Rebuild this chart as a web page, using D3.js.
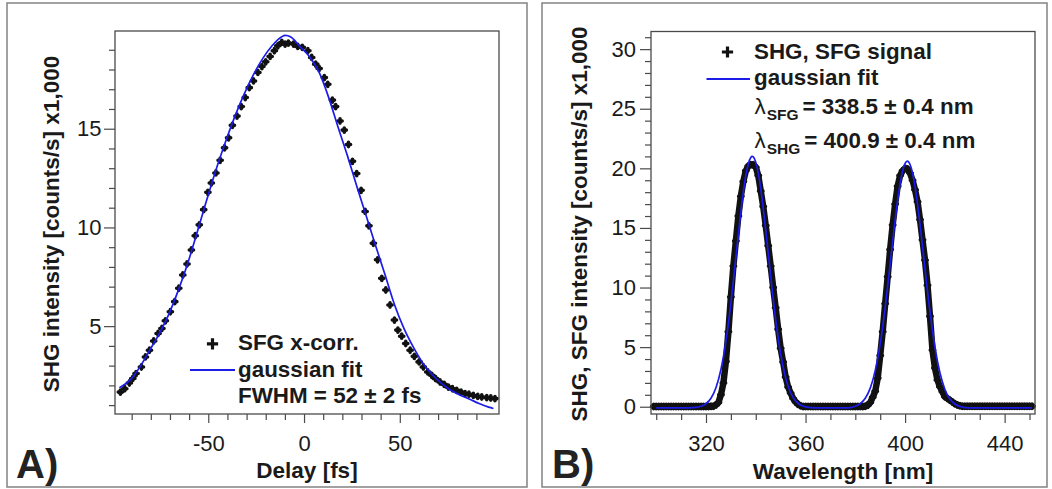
<!DOCTYPE html>
<html>
<head>
<meta charset="utf-8">
<script src="https://cdn.jsdelivr.net/npm/d3@7"></script>
<style>
  body { margin: 0; background: #fff; }
  svg { display: block; }
</style>
</head>
<body>
<svg width="1052" height="489"></svg>
<script>
// ---- panel A: SFG cross-correlation (delay in fs, counts/s x1000)
const delayFs = [-95.9, -93.6, -91.2, -89.4, -87.7, -84.9, -82.8, -80.7, -78.5, -76.2,
  -74.2, -72.4, -69.8, -67.5, -65.4, -63.3, -61.1, -58.8, -56.8, -54.7,
  -52.4, -50.2, -48.4, -46.0, -43.8, -41.5, -39.4, -37.4, -35.0, -32.8,
  -30.7, -28.6, -26.4, -24.1, -22.0, -20.0, -17.7, -15.5, -13.7, -11.6,
  -9.9, -8.2, -5.5, -3.3, -0.9, 2.0, 4.0, 6.1, 7.9, 10.6,
  12.4, 14.8, 16.5, 18.8, 21.0, 23.2, 25.3, 27.5, 29.8, 31.9,
  33.9, 36.2, 38.4, 40.6, 42.7, 44.9, 47.2, 49.0, 51.0, 53.1,
  55.4, 57.6, 60.1, 62.3, 64.6, 66.7, 68.7, 71.0, 73.2, 75.4,
  77.5, 79.7, 82.0, 84.1, 86.1, 88.4, 90.7, 92.8, 95.4, 97.5, 99.7];
const xcorrSignal = [1.66, 1.83, 2.12, 2.35, 2.60, 2.93, 3.44, 3.78, 4.25, 4.63,
  4.88, 5.27, 5.73, 6.24, 6.92, 7.59, 8.15, 8.86, 9.58, 10.13,
  10.90, 11.78, 12.25, 12.76, 13.40, 14.03, 14.54, 15.17, 15.64, 16.12,
  16.58, 17.08, 17.42, 17.85, 18.15, 18.39, 18.66, 18.95, 19.20, 19.37,
  19.29, 19.34, 19.29, 19.17, 19.12, 18.95, 18.61, 18.27, 18.05, 17.59,
  17.25, 16.45, 16.12, 15.39, 14.93, 14.20, 13.35, 12.73, 11.88, 10.81,
  10.08, 9.20, 8.36, 7.42, 6.83, 6.07, 5.31, 4.80, 4.49, 4.12,
  3.78, 3.47, 3.19, 2.93, 2.68, 2.51, 2.34, 2.17, 2.05, 1.91,
  1.83, 1.75, 1.66, 1.58, 1.55, 1.49, 1.44, 1.41, 1.38, 1.36, 1.33];

const xcorrFitDelay = [-96.4, -90.5, -85.6, -80.6, -75.7, -70.8, -65.9, -61.0, -56.1, -51.1,
  -46.2, -41.3, -36.4, -31.5, -26.6, -21.6, -16.7, -11.8, -9.8, -6.9,
  -2.0, 2.9, 7.9, 12.8, 17.7, 22.6, 27.5, 32.4, 37.3, 42.3,
  47.2, 52.1, 57.0, 61.9, 66.9, 71.8, 76.7, 81.6, 86.5, 91.4, 96.4, 98.9];
const xcorrFit = [1.88, 2.3, 2.95, 3.78, 4.6, 5.56, 6.75, 8.1, 9.65, 11.3,
  12.85, 14.25, 15.55, 16.7, 17.7, 18.55, 19.2, 19.65, 19.73, 19.65,
  19.15, 18.65, 17.85, 16.6, 15.1, 13.65, 12.1, 10.6, 9.1, 7.6,
  6.1, 4.9, 3.95, 3.15, 2.55, 2.1, 1.75, 1.5, 1.3, 1.08, 0.9, 0.83];

// ---- panel B: SHG / SFG spectrum, one value per nm starting at 299 nm
const spectrumStartNm = 299;
const spectrumSignal = [0.02, 0.02, 0.02, 0.02, 0.02, 0.02, 0.02, 0.02, 0.02,
  0.02, 0.02, 0.02, 0.02, 0.02, 0.02, 0.02, 0.02, 0.02, 0.02,
  0.02, 0.02, 0.02, 0.02, 0.03, 0.05, 0.15, 0.35, 1.0, 2.0,
  3.8, 6.3, 9.2, 11.8, 13.9, 16.0, 17.65, 18.9, 19.8, 20.2,
  20.3, 20.3, 20.1, 19.4, 18.1, 16.8, 15.2, 13.5, 11.8, 10.0,
  8.3, 6.5, 4.9, 3.75, 2.5, 1.65, 1.15, 0.7, 0.4, 0.2,
  0.08, 0.02, 0.02, 0.02, 0.02, 0.02, 0.02, 0.02, 0.02, 0.02,
  0.02, 0.02, 0.02, 0.02, 0.02, 0.02, 0.02, 0.02, 0.02, 0.02,
  0.02, 0.02, 0.02, 0.02, 0.02, 0.02, 0.05, 0.12, 0.35, 0.8,
  1.3, 2.4, 4.3, 6.3, 8.65, 10.9, 13.2, 15.25, 17.0, 18.5,
  19.4, 19.8, 20.0, 19.95, 19.6, 19.0, 18.2, 17.2, 15.7, 14.0,
  12.3, 10.2, 7.6, 4.75, 3.25, 2.25, 1.67, 1.25, 0.84, 0.7,
  0.55, 0.4, 0.25, 0.15, 0.08, 0.05, 0.05, 0.05, 0.05, 0.05,
  0.05, 0.05, 0.05, 0.05, 0.05, 0.05, 0.05, 0.05, 0.05, 0.05,
  0.05, 0.05, 0.05, 0.05, 0.05, 0.05, 0.05, 0.05, 0.05, 0.05,
  0.05, 0.05, 0.05, 0.05];

const spectrumFitNm = [300, 310, 316, 318, 320, 322, 324, 326, 328, 330,
  332, 334, 335, 336, 337, 338, 338.6, 339, 340, 341,
  342, 344, 346, 348, 350, 352, 354, 356, 358, 360,
  364, 376, 378, 380, 382, 384, 386, 388, 390, 392,
  394, 396, 398, 399, 400, 400.9, 402, 403, 404, 406,
  408, 410, 412, 414, 416, 418, 420, 422, 424, 428, 451];
const spectrumFit = [-0.1, -0.1, -0.05, 0.04, 0.25, 0.71, 1.59, 3.12, 5.48, 8.69,
  12.5, 16.33, 18.0, 19.38, 20.37, 20.91, 21.0, 20.96, 20.52, 19.6,
  18.3, 14.84, 10.94, 7.31, 4.43, 2.42, 1.17, 0.49, 0.14, -0.01,
  -0.1, -0.1, -0.08, 0.045, 0.26, 0.71, 1.56, 3.03, 5.27, 8.32,
  11.95, 15.65, 18.71, 19.77, 20.41, 20.6, 20.32, 19.59, 18.46, 15.3,
  11.57, 7.98, 5.0, 2.85, 1.45, 0.65, 0.23, 0.03, -0.07, -0.1, -0.1];

// ---- ticks
const delayMajorTicks = [-50, 0, 50];
const delayMinorTicks = [-90, -80, -70, -60, -40, -30, -20, -10, 10, 20, 30, 40, 60, 70, 80, 90];
const xcorrMajorTicks = [5, 10, 15];
const xcorrMinorTicks = [1, 2, 3, 4, 6, 7, 8, 9, 11, 12, 13, 14, 16, 17, 18, 19];
const nmMajorTicks = [320, 360, 400, 440];
const nmMinorTicks = [300, 310, 330, 340, 350, 370, 380, 390, 410, 420, 430, 450];
const spectrumMajorTicks = [0, 5, 10, 15, 20, 25, 30];
const spectrumMinorTicks = [1, 2, 3, 4, 6, 7, 8, 9, 11, 12, 13, 14, 16, 17, 18, 19,
  21, 22, 23, 24, 26, 27, 28, 29, 31];

const fontFamily = '"Liberation Sans", Arial, Helvetica, sans-serif';
const textColor = "#1a1a1a";
const fitColor = "#1c1ce8";
const dataColor = "#111";
const plusPath = "M-2.1,0H2.1M0,-2.1V2.1";

main();

function main() {
  const svg = d3.select("svg");
  svg.append("rect").attr("width", 1052).attr("height", 489).attr("fill", "#fff");

  drawPanelFrame(svg, 7, 3, 520, 484);
  drawPanelFrame(svg, 542, 3, 505, 484);

  drawDelayPanel(svg);
  drawSpectrumPanel(svg);
}

function drawPanelFrame(svg, x, y, w, h) {
  svg.append("rect")
    .attr("x", x).attr("y", y).attr("width", w).attr("height", h)
    .attr("fill", "none").attr("stroke", "#828282").attr("stroke-width", 1.5);
}

function drawDelayPanel(svg) {
  const xScale = d3.scaleLinear().domain([-98.7, 101.8]).range([115, 499]);
  const yScale = d3.scaleLinear().domain([0.55, 19.95]).range([414, 31]);

  drawAxes(svg, xScale, yScale, {
    xMajor: delayMajorTicks, xMinor: delayMinorTicks,
    yMajor: xcorrMajorTicks, yMinor: xcorrMinorTicks, yPadding: 2.5
  });

  const points = delayFs.map((d, i) => [d, xcorrSignal[i]]);
  svg.append("g")
    .selectAll("path")
    .data(points)
    .join("path")
    .attr("d", plusPath)
    .attr("transform", (d) => `translate(${xScale(d[0])},${yScale(d[1])})`)
    .attr("stroke", dataColor)
    .attr("stroke-width", 3.6)
    .attr("stroke-linecap", "round");

  const fitLine = d3.line()
    .x((d) => xScale(d[0]))
    .y((d) => yScale(d[1]))
    .curve(d3.curveMonotoneX);
  svg.append("path")
    .datum(xcorrFitDelay.map((d, i) => [d, xcorrFit[i]]))
    .attr("d", fitLine)
    .attr("fill", "none")
    .attr("stroke", fitColor)
    .attr("stroke-width", 1.7);

  drawFrame(svg, xScale, yScale);

  // legend
  drawPlus(svg, 212.5, 343.8);
  legendText(svg, 238, 350, "SFG x-corr.");
  svg.append("line")
    .attr("x1", 190).attr("x2", 235).attr("y1", 370).attr("y2", 370)
    .attr("stroke", fitColor).attr("stroke-width", 1.8);
  legendText(svg, 238, 377, "gaussian fit");
  legendText(svg, 238, 403.3, "FWHM = 52 ± 2 fs");

  axisTitle(svg, 307, 478, "Delay [fs]", false);
  axisTitle(svg, 58.5, 224, "SHG intensity [counts/s] x1,000", true);
  panelLabel(svg, 16, 478, "A)");
}

function drawSpectrumPanel(svg) {
  const xScale = d3.scaleLinear().domain([297.9, 452.2]).range([651, 1035]);
  const yScale = d3.scaleLinear().domain([-0.61, 31.48]).range([414, 31.5]);

  drawAxes(svg, xScale, yScale, {
    xMajor: nmMajorTicks, xMinor: nmMinorTicks,
    yMajor: spectrumMajorTicks, yMinor: spectrumMinorTicks, yPadding: 4
  });

  const points = spectrumSignal.map((d, i) => [spectrumStartNm + i, d]);

  // the measured points are so dense that they merge into a thick band
  const dataLine = d3.line()
    .x((d) => xScale(d[0]))
    .y((d) => yScale(d[1]));
  svg.append("path")
    .datum(points)
    .attr("d", dataLine)
    .attr("fill", "none")
    .attr("stroke", dataColor)
    .attr("stroke-width", 6.5)
    .attr("stroke-linejoin", "round")
    .attr("stroke-linecap", "round");
  svg.append("g")
    .selectAll("path")
    .data(points)
    .join("path")
    .attr("d", "M-2.3,0H2.3M0,-2.3V2.3")
    .attr("transform", (d) => `translate(${xScale(d[0])},${yScale(d[1])})`)
    .attr("stroke", dataColor)
    .attr("stroke-width", 3.4)
    .attr("stroke-linecap", "round");

  const fitLine = d3.line()
    .x((d) => xScale(d[0]))
    .y((d) => yScale(d[1]))
    .curve(d3.curveMonotoneX);
  svg.append("path")
    .datum(spectrumFitNm.map((d, i) => [d, spectrumFit[i]]))
    .attr("d", fitLine)
    .attr("fill", "none")
    .attr("stroke", fitColor)
    .attr("stroke-width", 1.7);

  drawFrame(svg, xScale, yScale);

  // legend
  drawPlus(svg, 727.5, 52);
  legendText(svg, 754, 59, "SHG, SFG signal");
  svg.append("line")
    .attr("x1", 706.5).attr("x2", 750).attr("y1", 79).attr("y2", 79)
    .attr("stroke", fitColor).attr("stroke-width", 1.8);
  legendText(svg, 754, 85, "gaussian fit");
  lambdaText(svg, 754.5, 114, "SFG", "= 338.5 ± 0.4 nm");
  lambdaText(svg, 754.5, 147.7, "SHG", "= 400.9 ± 0.4 nm");

  axisTitle(svg, 843, 478.5, "Wavelength [nm]", false);
  axisTitle(svg, 586.5, 224, "SHG, SFG intensity [counts/s] x1,000", true);
  panelLabel(svg, 552, 478, "B)");
}

function drawAxes(svg, xScale, yScale, ticks) {
  const bottom = yScale.range()[0];
  const left = xScale.range()[0];
  const axisColor = "#4a4a4a";

  const styleAxis = (g) => {
    g.select(".domain").remove();
    g.attr("color", axisColor)
      .attr("font-family", fontFamily)
      .attr("font-size", 22);
    g.selectAll("line").attr("stroke-width", 1.2);
    g.selectAll("text").attr("fill", textColor);
  };

  svg.append("g")
    .attr("transform", `translate(0, ${bottom})`)
    .call(d3.axisBottom(xScale).tickValues(ticks.xMinor).tickSize(6).tickFormat(() => ""))
    .call(styleAxis);
  svg.append("g")
    .attr("transform", `translate(0, ${bottom})`)
    .call(d3.axisBottom(xScale).tickValues(ticks.xMajor).tickSize(9).tickPadding(12)
      .tickFormat((d) => String(d)))
    .call(styleAxis);

  svg.append("g")
    .attr("transform", `translate(${left}, 0)`)
    .call(d3.axisLeft(yScale).tickValues(ticks.yMinor).tickSize(6).tickFormat(() => ""))
    .call(styleAxis);
  svg.append("g")
    .attr("transform", `translate(${left}, 0)`)
    .call(d3.axisLeft(yScale).tickValues(ticks.yMajor).tickSize(11).tickPadding(ticks.yPadding)
      .tickFormat((d) => String(d)))
    .call(styleAxis);
}

function drawFrame(svg, xScale, yScale) {
  const [x0, x1] = xScale.range();
  const [y0, y1] = yScale.range();
  svg.append("rect")
    .attr("x", x0).attr("y", y1)
    .attr("width", x1 - x0).attr("height", y0 - y1)
    .attr("fill", "none")
    .attr("stroke", "#4a4a4a")
    .attr("stroke-width", 1.3);
}

function drawPlus(svg, cx, cy) {
  svg.append("path")
    .attr("d", "M-5.6,0H5.6M0,-5.6V5.6")
    .attr("transform", `translate(${cx},${cy})`)
    .attr("stroke", dataColor)
    .attr("stroke-width", 3.2);
}

function legendText(svg, x, y, str) {
  svg.append("text")
    .text(str)
    .attr("x", x).attr("y", y)
    .attr("font-family", fontFamily)
    .attr("font-size", 22.4)
    .attr("font-weight", "bold")
    .attr("fill", textColor);
}

function lambdaText(svg, x, y, sub, rest) {
  const t = svg.append("text")
    .attr("x", x).attr("y", y)
    .attr("font-family", fontFamily)
    .attr("font-size", 22.4)
    .attr("fill", textColor);
  t.append("tspan").text("λ");
  t.append("tspan").text(sub)
    .attr("font-size", 15.5).attr("font-weight", "bold")
    .attr("dx", 1).attr("dy", 6);
  t.append("tspan").text(rest)
    .attr("font-weight", "bold")
    .attr("dx", 4).attr("dy", -6);
}

function axisTitle(svg, x, y, str, rotated) {
  const t = svg.append("text")
    .text(str)
    .attr("x", x).attr("y", y)
    .attr("text-anchor", "middle")
    .attr("font-family", fontFamily)
    .attr("font-size", 22.5)
    .attr("font-weight", "bold")
    .attr("fill", textColor);
  if (rotated) {
    t.attr("x", 0).attr("y", 0)
      .attr("transform", `translate(${x}, ${y}) rotate(-90)`);
  }
}

function panelLabel(svg, x, y, str) {
  svg.append("text")
    .text(str)
    .attr("x", x).attr("y", y)
    .attr("font-family", fontFamily)
    .attr("font-size", 40)
    .attr("font-weight", "bold")
    .attr("fill", "#222");
}
</script>
</body>
</html>
